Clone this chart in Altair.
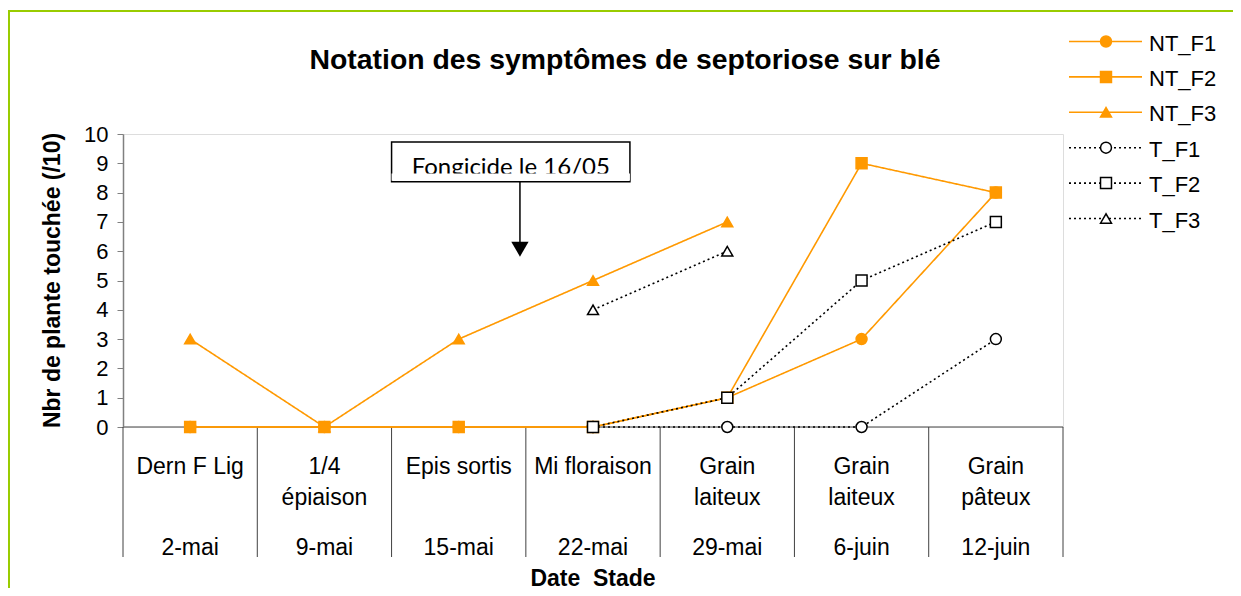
import altair as alt
import pandas as pd

# ---------------- data ----------------
stage_line1 = ["Dern F Lig", "1/4", "Epis sortis", "Mi floraison", "Grain", "Grain", "Grain"]
stage_line2 = ["", "épiaison", "", "", "laiteux", "laiteux", "pâteux"]
dates = ["2-mai", "9-mai", "15-mai", "22-mai", "29-mai", "6-juin", "12-juin"]

series_names = ["NT_F1", "NT_F2", "NT_F3", "T_F1", "T_F2", "T_F3"]
NT_F1 = [0, 0, 0, 0, 1, 3, 8]
NT_F2 = [0, 0, 0, 0, 1, 9, 8]
NT_F3 = [3, 0, 3, 5, 7, None, None]
T_F1 = [None, None, None, 0, 0, 0, 3]
T_F2 = [None, None, None, 0, 1, 5, 7]
T_F3 = [None, None, None, 4, 6, None, None]
series_values = [NT_F1, NT_F2, NT_F3, T_F1, T_F2, T_F3]

# marker drawing order (last on top)
marker_order = ["NT_F3", "NT_F1", "NT_F2", "T_F3", "T_F1", "T_F2"]

title_text = "Notation des symptômes de septoriose sur blé"
y_title = "Nbr de plante touchée (/10)"
x_title = "Date\u00a0 Stade"

# annotation (in data units)
annot_text = ["Fongicide le 16/05"]
annot_box_x = [2.0, 3.775]
annot_box_y = [9.73, 8.37]
annot_arrow_x = [2.956]
annot_arrow_y = [8.37, 6.3]
annot_head_y = [6.07]

ORANGE = "#FF9900"
FONT = "Liberation Sans"

# ---------------- build tables ----------------
rows = []
for name, vals in zip(series_names, series_values):
    for i, v in enumerate(vals):
        if v is not None:
            rows.append({"series": name, "pos": i + 0.5, "value": v,
                         "z": marker_order.index(name) * 10 + i})
df = pd.DataFrame(rows)
df_pts = df.sort_values("z").reset_index(drop=True)

n_cat = len(dates)
cat_df = pd.DataFrame({"pos": [i + 0.5 for i in range(n_cat)],
                       "l1": stage_line1, "l2": stage_line2, "d": dates})
sep_df = pd.DataFrame({"b": list(range(n_cat + 1))})
base_df = pd.DataFrame({"x1": [0], "x2": [n_cat], "y": [0]})
leg_df = pd.DataFrame({"series": series_names})

xs = alt.Scale(domain=[0, n_cat], nice=False, zero=False)
ys = alt.Scale(domain=[0, 10], nice=False, zero=False)

color_s = alt.Scale(domain=series_names, range=[ORANGE] * 3 + ["#000000"] * 3)
dash_s = alt.Scale(domain=series_names, range=[[1, 0]] * 3 + [[2, 3]] * 3)
shape_s = alt.Scale(domain=series_names,
                    range=["circle", "square", "triangle-up"] * 2)
fill_s = alt.Scale(domain=series_names, range=[ORANGE] * 3 + ["#ffffff"] * 3)
size_s = alt.Scale(domain=series_names, range=[120, 120, 135, 90, 105, 100])

y_axis = alt.Axis(values=list(range(11)), tickSize=6, tickColor="#808080",
                  domainColor="#808080", domainWidth=1.5, grid=False,
                  labelFont=FONT, labelFontSize=22, labelColor="#000000",
                  labelPadding=9, title=y_title, titleFont=FONT,
                  titleFontSize=23, titleFontWeight="bold", titleColor="#000000",
                  titleX=-71, titleY=146, titleAngle=270, titleAlign="center",
                  titleBaseline="middle")

# x axis drawn by hand: baseline, category separators, labels, title
baseline = alt.Chart(base_df).mark_rule(color="#808080", strokeWidth=1.5).encode(
    x=alt.X("x1:Q", scale=xs, axis=None), x2="x2:Q",
    y=alt.Y("y:Q", scale=ys, axis=None))
seps = alt.Chart(sep_df).mark_rule(color="#404040", strokeWidth=1).encode(
    x=alt.X("b:Q", scale=xs, axis=None), y=alt.value(293), y2=alt.value(423))

lines = alt.Chart(df).mark_line(strokeWidth=1.6).encode(
    x=alt.X("pos:Q", scale=xs, axis=None),
    y=alt.Y("value:Q", scale=ys, axis=y_axis),
    color=alt.Color("series:N", scale=color_s, legend=None),
    strokeDash=alt.StrokeDash("series:N", scale=dash_s, legend=None),
)

points = alt.Chart(df_pts).mark_point(filled=True, strokeWidth=1.5, opacity=1).encode(
    x=alt.X("pos:Q", scale=xs, axis=None),
    y=alt.Y("value:Q", scale=ys, axis=None),
    shape=alt.Shape("series:N", scale=shape_s, legend=None),
    fill=alt.Fill("series:N", scale=fill_s, legend=None),
    stroke=alt.Stroke("series:N", scale=color_s, legend=None),
    size=alt.Size("series:N", scale=size_s, legend=None),
    order=alt.Order("z:Q"),
)

cat_text = alt.Chart(cat_df)
cat1 = cat_text.mark_text(font=FONT, fontSize=23, color="#000000", baseline="alphabetic").encode(
    x=alt.X("pos:Q", scale=xs, axis=None), y=alt.value(340), text="l1:N")
cat2 = cat_text.mark_text(font=FONT, fontSize=23, color="#000000", baseline="alphabetic").encode(
    x=alt.X("pos:Q", scale=xs, axis=None), y=alt.value(371), text="l2:N")
cat3 = cat_text.mark_text(font=FONT, fontSize=23, color="#000000", baseline="alphabetic").encode(
    x=alt.X("pos:Q", scale=xs, axis=None), y=alt.value(421), text="d:N")

one = pd.DataFrame({"t": [title_text], "xt": [x_title]})
xtitle = alt.Chart(one).mark_text(font=FONT, fontSize=23, fontWeight="bold",
                                  color="#000000", baseline="alphabetic").encode(
    x=alt.value(470), y=alt.value(452), text="xt:N")

# annotation
box_df = pd.DataFrame({"x1": [annot_box_x[0]], "x2": [annot_box_x[1]],
                       "y1": [annot_box_y[0]], "y2": [annot_box_y[1]],
                       "t": annot_text,
                       "xm": [(annot_box_x[0] + annot_box_x[1]) / 2],
                       "ax": annot_arrow_x, "ay1": [annot_arrow_y[0]],
                       "ay2": [annot_arrow_y[1]], "hy": annot_head_y})
box = alt.Chart(box_df).mark_rect(fill="#ffffff", stroke="#000000", strokeWidth=1.5).encode(
    x=alt.X("x1:Q", scale=xs, axis=None), x2="x2:Q",
    y=alt.Y("y1:Q", scale=ys, axis=None), y2="y2:Q")
box_txt = alt.Chart(box_df).mark_text(font="Lato", fontSize=24, color="#000000",
                                      baseline="alphabetic").encode(
    x=alt.X("xm:Q", scale=xs, axis=None), y=alt.value(41), text="t:N")
box_clip = alt.Chart(box_df).mark_rect(fill="#ffffff").encode(
    x=alt.X("x1:Q", scale=xs, axis=None), x2="x2:Q",
    y=alt.value(39.5), y2=alt.value(46.8))
arrow = alt.Chart(box_df).mark_rule(color="#000000", strokeWidth=1.5).encode(
    x=alt.X("ax:Q", scale=xs, axis=None),
    y=alt.Y("ay1:Q", scale=ys, axis=None), y2="ay2:Q")
head = alt.Chart(box_df).mark_point(shape="triangle-down", filled=True, color="#000000",
                                    size=300, opacity=1).encode(
    x=alt.X("ax:Q", scale=xs, axis=None),
    y=alt.Y("hy:Q", scale=ys, axis=None))

# title
title = alt.Chart(one).mark_text(font=FONT, fontSize=28.4, fontWeight="bold",
                                 color="#000000", baseline="alphabetic").encode(
    x=alt.value(502), y=alt.value(-65), text="t:N")

# green frame
frame_left = alt.Chart(one).mark_rule(color="#99cc00", strokeWidth=2.6).encode(
    x=alt.value(-114.3), y=alt.value(-123), y2=alt.value(460))
frame_top = alt.Chart(one).mark_rule(color="#99cc00", strokeWidth=2.2).encode(
    x=alt.value(-115.5), x2=alt.value(1120), y=alt.value(-123))

# legend
leg_y = alt.Y("series:N", scale=alt.Scale(type="point", domain=series_names,
                                          range=[-92.5, 84.5], padding=0), axis=None)
leg_line = alt.Chart(leg_df).mark_rule(strokeWidth=1.6).encode(
    x=alt.value(946), x2=alt.value(1019), y=leg_y,
    color=alt.Color("series:N", scale=color_s, legend=None),
    strokeDash=alt.StrokeDash("series:N",
                              scale=alt.Scale(domain=series_names,
                                              range=[[1, 0]] * 3 + [[2, 4.5]] * 3),
                              legend=None))
leg_pt = alt.Chart(leg_df).mark_point(filled=True, strokeWidth=1.5, opacity=1).encode(
    x=alt.value(983), y=leg_y,
    shape=alt.Shape("series:N", scale=shape_s, legend=None),
    fill=alt.Fill("series:N", scale=fill_s, legend=None),
    stroke=alt.Stroke("series:N", scale=color_s, legend=None),
    size=alt.Size("series:N",
                  scale=alt.Scale(domain=series_names, range=[100, 100, 115, 70, 80, 85]),
                  legend=None))
leg_txt = alt.Chart(leg_df).mark_text(font=FONT, fontSize=22, color="#000000",
                                      align="left", baseline="middle", dy=2).encode(
    x=alt.value(1026), y=leg_y, text="series:N")

chart = alt.layer(
    frame_left, frame_top, title,
    baseline, seps, cat1, cat2, cat3, xtitle,
    lines, points,
    box, box_txt, box_clip, arrow, head,
    leg_line, leg_pt, leg_txt,
).resolve_scale(y="independent").properties(
    width=940, height=293,
    autosize=alt.AutoSizeParams(type="none"),
    padding={"left": 115, "top": 126, "right": 170, "bottom": 161},
).configure_view(stroke=None).configure(background="#ffffff")

chart.save("out.html", embed_options={"renderer": "svg", "actions": False})
